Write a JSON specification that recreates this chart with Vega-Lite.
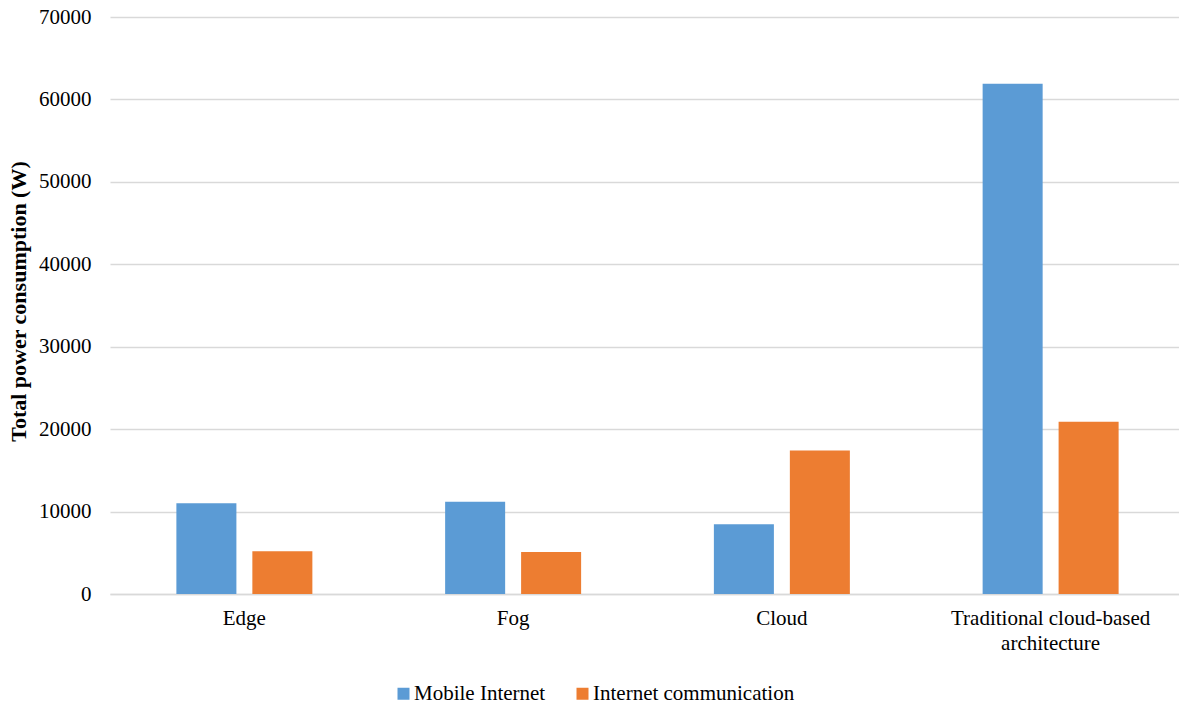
{
  "$schema": "https://vega.github.io/schema/vega-lite/v6.json",
  "autosize": {"type": "none"},
  "width": 1075,
  "height": 577,
  "padding": {"left": 110, "top": 17, "right": 0, "bottom": 110},
  "background": "white",
  "config": {
    "font": "Times New Roman, Liberation Serif, serif",
    "view": {"stroke": null}
  },
  "data": {
    "values": [
      {"category": "Edge", "series": "Mobile Internet", "power": 11000},
      {"category": "Edge", "series": "Internet communication", "power": 5200},
      {"category": "Fog", "series": "Mobile Internet", "power": 11200},
      {"category": "Fog", "series": "Internet communication", "power": 5100},
      {"category": "Cloud", "series": "Mobile Internet", "power": 8450},
      {"category": "Cloud", "series": "Internet communication", "power": 17400},
      {"category": "Traditional cloud-based architecture", "series": "Mobile Internet", "power": 61900},
      {"category": "Traditional cloud-based architecture", "series": "Internet communication", "power": 20900}
    ]
  },
  "mark": {"type": "bar"},
  "encoding": {
    "x": {
      "field": "category",
      "type": "nominal",
      "sort": null,
      "scale": {"paddingInner": 0.494, "paddingOuter": 0.247},
      "axis": {
        "title": null,
        "labelAngle": 0,
        "labelFont": "Times New Roman, Liberation Serif, serif",
        "labelFontSize": 21,
        "labelColor": "#000000",
        "labelPadding": 13,
        "labelLineHeight": 25,
        "labelLimit": 0,
        "labelExpr": "datum.label == 'Traditional cloud-based architecture' ? ['Traditional cloud-based', 'architecture'] : datum.label",
        "ticks": false,
        "domain": true,
        "domainColor": "#D9D9D9",
        "domainWidth": 1.5
      }
    },
    "xOffset": {
      "field": "series",
      "type": "nominal",
      "sort": ["Mobile Internet", "Internet communication"],
      "scale": {"paddingInner": 0.21, "paddingOuter": 0}
    },
    "y": {
      "field": "power",
      "type": "quantitative",
      "scale": {"domain": [0, 70000], "nice": false},
      "axis": {
        "title": "Total power consumption (W)",
        "titleFont": "Times New Roman, Liberation Serif, serif",
        "titleFontSize": 22,
        "titleFontWeight": "bold",
        "titleColor": "#000000",
        "titleX": -92,
        "titleY": 284,
        "titleBaseline": "middle",
        "values": [0, 10000, 20000, 30000, 40000, 50000, 60000, 70000],
        "format": "d",
        "labelFont": "Times New Roman, Liberation Serif, serif",
        "labelFontSize": 21,
        "labelColor": "#000000",
        "labelPadding": 19,
        "ticks": false,
        "domain": false,
        "grid": true,
        "gridColor": "#D9D9D9",
        "gridWidth": 1.5
      }
    },
    "color": {
      "field": "series",
      "type": "nominal",
      "sort": ["Mobile Internet", "Internet communication"],
      "scale": {"domain": ["Mobile Internet", "Internet communication"], "range": ["#5B9BD5", "#ED7D31"]},
      "legend": {
        "title": null,
        "orient": "none",
        "direction": "horizontal",
        "legendX": 283,
        "legendY": 666,
        "symbolType": "square",
        "symbolSize": 144,
        "symbolStrokeWidth": 0,
        "labelFont": "Times New Roman, Liberation Serif, serif",
        "labelFontSize": 21,
        "labelColor": "#000000",
        "labelOffset": 0,
        "labelLimit": 0,
        "columnPadding": 26
      }
    }
  }
}
